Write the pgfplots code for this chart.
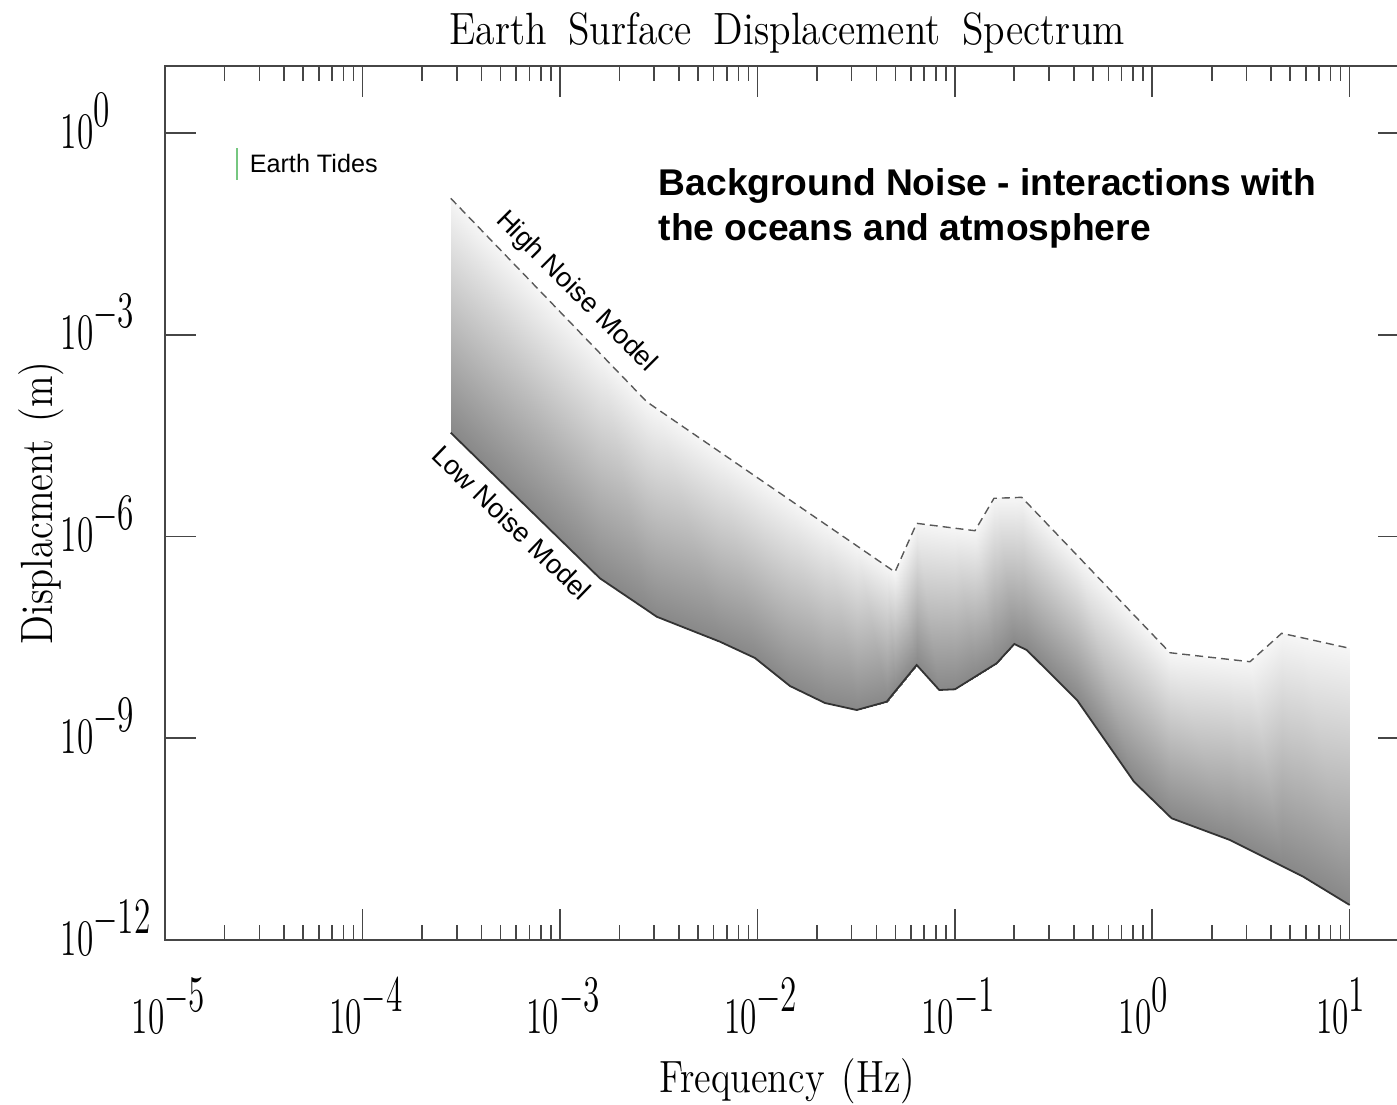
\documentclass[border=0pt]{standalone}
\usepackage{pgfplots}
\pgfplotsset{compat=1.18}
\usepackage{pgfplotstable}
\usepackage{graphicx}
\usepackage{fontspec}
\newfontfamily\arial{Liberation Sans}
\definecolor{tidegreen}{RGB}{118,199,128}
\definecolor{framegray}{RGB}{70,70,70}
\newcommand{\tl}[1]{\scalebox{0.65}[1]{10}\rlap{\raisebox{5.5pt}{\scalebox{0.65}[1]{#1}}}}
\newcommand{\lbl}{\fontsize{11.3}{13}\selectfont}

% band edges: frequency, low noise model, high noise model
\pgfplotstableread{
f        lo         hi
2.793e-4 3.495e-5   0.1069
1.592e-3 2.390e-7   5.317e-4
2.748e-3 8.101e-8   1.010e-4
3.086e-3 6.418e-8   7.977e-5
6.457e-3 2.727e-8   1.805e-5
9.713e-3 1.561e-8   7.936e-6
1.461e-2 5.983e-9   3.489e-6
2.198e-2 3.344e-9   1.534e-6
3.181e-2 2.631e-9   7.298e-7
4.513e-2 3.495e-9   3.605e-7
4.972e-2 4.957e-9   2.966e-7
6.404e-2 1.228e-8   1.571e-6
8.336e-2 5.218e-9   1.423e-6
0.1001   5.345e-9   1.329e-6
0.1264   8.199e-9   1.220e-6
0.1578   1.228e-8   3.699e-6
0.1628   1.302e-8   3.711e-6
0.2000   2.520e-8   3.788e-6
0.2180   2.229e-8   3.827e-6
0.2311   2.053e-8   3.204e-6
0.4155   3.705e-9   5.272e-7
0.8078   2.259e-10  6.803e-8
1.229    6.815e-11  1.871e-8
1.254    6.451e-11  1.858e-8
2.475    3.069e-11  1.483e-8
3.126    2.179e-11  1.375e-8
4.523    1.264e-11  3.636e-8
5.820    8.736e-12  3.096e-8
10       3.315e-12  2.176e-8
}\band

% shading mesh: first row low edge (c=0), second row high edge (c=1)
\pgfplotstableread{
f        y          c
2.793e-4 3.495e-5   0
1.592e-3 2.390e-7   0
2.748e-3 8.101e-8   0
3.086e-3 6.418e-8   0
6.457e-3 2.727e-8   0
9.713e-3 1.561e-8   0
1.461e-2 5.983e-9   0
2.198e-2 3.344e-9   0
3.181e-2 2.631e-9   0
4.513e-2 3.495e-9   0
4.972e-2 4.957e-9   0
6.404e-2 1.228e-8   0
8.336e-2 5.218e-9   0
0.1001   5.345e-9   0
0.1264   8.199e-9   0
0.1578   1.228e-8   0
0.1628   1.302e-8   0
0.2000   2.520e-8   0
0.2180   2.229e-8   0
0.2311   2.053e-8   0
0.4155   3.705e-9   0
0.8078   2.259e-10  0
1.229    6.815e-11  0
1.254    6.451e-11  0
2.475    3.069e-11  0
3.126    2.179e-11  0
4.523    1.264e-11  0
5.820    8.736e-12  0
10       3.315e-12  0
2.793e-4 0.1069     1
1.592e-3 5.317e-4   1
2.748e-3 1.010e-4   1
3.086e-3 7.977e-5   1
6.457e-3 1.805e-5   1
9.713e-3 7.936e-6   1
1.461e-2 3.489e-6   1
2.198e-2 1.534e-6   1
3.181e-2 7.298e-7   1
4.513e-2 3.605e-7   1
4.972e-2 2.966e-7   1
6.404e-2 1.571e-6   1
8.336e-2 1.423e-6   1
0.1001   1.329e-6   1
0.1264   1.220e-6   1
0.1578   3.699e-6   1
0.1628   3.711e-6   1
0.2000   3.788e-6   1
0.2180   3.827e-6   1
0.2311   3.204e-6   1
0.4155   5.272e-7   1
0.8078   6.803e-8   1
1.229    1.871e-8   1
1.254    1.858e-8   1
2.475    1.483e-8   1
3.126    1.375e-8   1
4.523    3.636e-8   1
5.820    3.096e-8   1
10       2.176e-8   1
}\meshtab

\begin{document}
\begin{tikzpicture}
\begin{axis}[
  scale only axis, width=310.9pt, height=218.56pt,
  xmode=log, ymode=log,
  xmin=1e-5, xmax=19.95, ymin=1e-12, ymax=10,
  xtick={1e-5,1e-4,1e-3,1e-2,1e-1,1,10},
  xticklabels={\tl{$-$5},\tl{$-$4},\tl{$-$3},\tl{$-$2},\tl{$-$1},\tl{0},\tl{1}},
  minor xtick={2e-5,3e-5,4e-5,5e-5,6e-5,7e-5,8e-5,9e-5,
               2e-4,3e-4,4e-4,5e-4,6e-4,7e-4,8e-4,9e-4,
               2e-3,3e-3,4e-3,5e-3,6e-3,7e-3,8e-3,9e-3,
               2e-2,3e-2,4e-2,5e-2,6e-2,7e-2,8e-2,9e-2,
               0.2,0.3,0.4,0.5,0.6,0.7,0.8,0.9,
               2,3,4,5,6,7,8,9},
  ytick={1e-12,1e-9,1e-6,1e-3,1},
  yticklabels={\tl{$-$12},\tl{$-$9},\tl{$-$6},\tl{$-$3},\tl{0}},
  yminorticks=false,
  tick align=inside,
  major tick length=7.75pt, minor tick length=3.75pt,
  ticklabel style={font=\fontsize{12.8}{14}\selectfont},
  xticklabel style={anchor=base east, inner sep=0pt, yshift=-23.25pt},
  yticklabel style={anchor=base west, inner sep=0pt, xshift=-26.3pt, yshift=-3.75pt},
  axis line style={framegray, line width=0.5pt},
  every tick/.style={framegray, line width=0.4pt},
  clip=false,
  colormap={band}{rgb255=(136,136,136) rgb255=(246,246,246)},
  point meta min=0, point meta max=1,
]
\addplot[surf, shader=interp, mesh/cols=29, mesh/rows=2, point meta=explicit]
  table[x=f, y=y, meta=c] {\meshtab};
\addplot[black!65, line width=0.35pt, dash pattern=on 2pt off 1.25pt] table[x=f, y=hi] {\band};
\addplot[black!80, line width=0.45pt] table[x=f, y=lo] {\band};
\addplot[tidegreen, line width=0.5pt] coordinates {(2.308e-5,0.5984) (2.308e-5,0.2000)};

\node[anchor=base west, inner sep=0pt, font=\arial\fontsize{6.3}{7}\selectfont] at (axis cs:2.655e-5,0.2630) {Earth Tides};
\node[anchor=base west, inner sep=0pt, font=\arial\bfseries\fontsize{9.3}{11}\selectfont] at (axis cs:3.133e-3,0.1197) {Background Noise - interactions with};
\node[anchor=base west, inner sep=0pt, font=\arial\bfseries\fontsize{9.3}{11}\selectfont] at (axis cs:3.133e-3,0.02564) {the oceans and atmosphere};
\node[rotate=-45, inner sep=0pt, font=\arial\fontsize{6.8}{8}\selectfont] at (axis cs:1.203e-3,4.32e-3) {High Noise Model};
\node[rotate=-44, inner sep=0pt, font=\arial\fontsize{6.8}{8}\selectfont] at (axis cs:5.706e-4,1.615e-6) {Low Noise Model};

\node[anchor=base, font=\lbl] at ([yshift=5.25pt]rel axis cs:0.5,1) {\scalebox{0.875}[1]{Earth\hspace{0.55em}Surface\hspace{0.55em}Displacement\hspace{0.55em}Spectrum}};
\node[anchor=base, font=\lbl] at ([yshift=-38pt]rel axis cs:0.5,0) {\scalebox{0.84}[1]{Frequency\hspace{0.45em}(Hz)}};
\node[anchor=base, rotate=90, font=\lbl] at ([xshift=-28.3pt]rel axis cs:0,0.5) {\scalebox{0.855}[1]{Displacment\hspace{0.45em}(m)}};
\end{axis}
\pgfresetboundingbox
\path[use as bounding box] ([xshift=-41.325pt,yshift=-41.25pt]current axis.south west) rectangle ++(349.25pt,276.25pt);
\end{tikzpicture}
\end{document}
